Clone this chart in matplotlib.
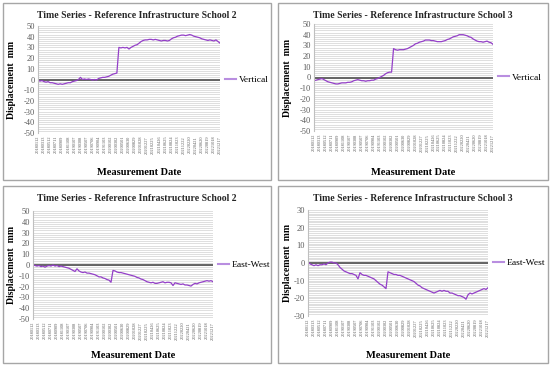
import numpy as np
import matplotlib.pyplot as plt
from matplotlib.patches import Rectangle

plt.rcParams['font.family'] = ['Liberation Serif', 'DejaVu Serif']
plt.rcParams['axes.unicode_minus'] = False

W, H = 550, 366  # figure size in pixels

# samples every 20 days starting 2018-01-12
step = 20
tick_labels = ["20180112", "20180313", "20180512", "20180711", "20180909", "20181108",
               "20190107", "20190308", "20190507", "20190706", "20190904", "20191103",
               "20200102", "20200302", "20200501", "20200630", "20200829", "20201028",
               "20201227", "20210225", "20210426", "20210625", "20210824", "20211023",
               "20211222", "20220220", "20220421", "20220620", "20220819", "20221018",
               "20221217"]
tick_step = 60

vert_school2 = [-1, -1.5, -1, -2, -2.5, -2, -3, -3, -3.5, -4,
                -4.5, -4, -4.5, -4, -3.5, -3, -3, -2, -1.5, -1,
                0, 2, 0, 0.5, 0, 0.5, 0, -0.5, 0, -0.5,
                1, 1.5, 2, 2, 2.5, 3, 4, 5, 5.5, 6,
                30, 29.5, 30, 29.5, 30, 28.5, 30, 31, 32, 32.5,
                34, 35.5, 36.5, 37, 37, 37.5, 37.5, 37, 37.5, 37,
                36.5, 36, 36.5, 36.5, 36, 36.5, 38, 39, 39.5, 40.5,
                41, 41.5, 41.5, 41, 41.5, 42, 41.5, 40.5, 40, 39.5,
                39, 38, 37.5, 37, 36.5, 37, 36.5, 36, 37, 35.5, 34]

vert_school3 = [-3, -2.5, -2, -1.5, -1, -2, -3, -4, -4.5, -5,
                -5.5, -6, -6, -5.5, -5, -5, -5, -4.5, -4.5, -4,
                -3, -2.5, -2, -2.5, -3, -3, -3.5, -3, -3, -2.5,
                -2.5, -1.5, -1, 0, 1, 2, 3.5, 4.5, 5, 5,
                27, 26, 25.5, 26, 26, 26, 26.5, 27, 28, 29,
                30, 31.5, 32, 33, 33.5, 34, 35, 35, 35, 34.5,
                34.5, 34, 33.5, 33.5, 33.5, 34, 34.5, 35.5, 36, 37,
                38, 38.5, 39, 40, 40, 40, 39.5, 39, 38, 37.5,
                36, 35, 34, 33.5, 33.5, 33, 33.5, 34, 33, 32.5, 31]

ew_school2 = [0.5, -0.5, -1, -0.5, -1.5, -1, -2, -1, -0.5, -1,
              0, -1, -0.5, -1.5, -1, -1.5, -2, -2.5, -3, -4,
              -5, -6, -3.5, -5.5, -6.5, -7, -6.5, -7.5, -7.5, -8,
              -8.5, -9, -10, -11, -11, -12, -12.5, -13.5, -14, -16,
              -5, -5.5, -6.5, -7, -7, -7.5, -8, -8.5, -9, -9.5,
              -10, -10.5, -11.5, -12, -13, -13.5, -14.5, -15.5, -16, -16.5,
              -16, -17, -17, -16.5, -16, -15.5, -16.5, -16, -16, -16.5,
              -19, -16.5, -17, -17.5, -18, -17.5, -18.5, -18.5, -19, -19.5,
              -18, -17, -17.5, -16.5, -16, -15.5, -15, -14.5, -15, -14.5, -15.5]

ew_school3 = [0.5, -0.5, -1, -1.5, -1, -1.5, -1, -1, -0.5, -1,
              0, 0.5, 0.5, 0, 0, -1, -2.5, -3.5, -4.5, -5,
              -5.5, -6, -6, -6.5, -7, -9, -5.5, -6.5, -7, -7,
              -7.5, -8, -8.5, -9, -10, -11, -12, -12.5, -13.5, -14.5,
              -5, -5.5, -6, -6.5, -6.5, -7, -7, -7.5, -8, -8.5,
              -9, -9.5, -10, -10.5, -11.5, -12.5, -13, -14, -14.5, -15,
              -15.5, -16, -16.5, -17, -16.5, -16, -15.5, -16, -15.5, -16,
              -16, -17, -17, -17.5, -18, -18.5, -18.5, -19, -19.5, -20.5,
              -18, -17, -17.5, -17, -16.5, -16, -15.5, -15, -14.5, -15, -14]

title2 = "Time Series - Reference Infrastructure School 2"
title3 = "Time Series - Reference Infrastructure School 3"

line_color = '#9440c8'
grey_txt = '#595959'

fig = plt.figure(figsize=(W / 100, H / 100), dpi=100)


def px_rect(x0, y0, x1, y1):
    return [x0 / W, 1 - y1 / H, (x1 - x0) / W, (y1 - y0) / H]


def panel(border, plot, title, values, ylim, minor, label):
    bx0, by0, bx1, by1 = border
    fig.add_artist(Rectangle((bx0 / W, 1 - by1 / H), (bx1 - bx0) / W, (by1 - by0) / H,
                             transform=fig.transFigure, fill=False,
                             edgecolor='#a6a6a6', lw=1.0))
    ax = fig.add_axes(px_rect(*plot))
    x = np.arange(len(values)) * step
    ax.plot(x, values, color=line_color, lw=0.9, label=label)
    ax.axhline(0, color='#595959', lw=1.3, zorder=1)
    ax.set_xlim(0, (len(values) - 1) * step)
    ax.set_ylim(*ylim)
    ax.set_yticks(np.arange(ylim[0], ylim[1] + 1, 10))
    ax.set_yticks(np.arange(ylim[0], ylim[1] + 0.1, minor), minor=True)
    ax.grid(True, which='both', axis='y', color='#d9d9d9', lw=0.6)
    ax.set_axisbelow(True)
    ax.set_xticks(np.arange(len(tick_labels)) * tick_step)
    ax.set_xticklabels(tick_labels, rotation=90, fontsize=3.2, color=grey_txt)
    ax.tick_params(axis='y', labelsize=6, colors=grey_txt, length=0, pad=2)
    ax.tick_params(axis='y', which='minor', length=0)
    ax.tick_params(axis='x', length=0, pad=2)
    for s in ['top', 'right', 'bottom']:
        ax.spines[s].set_visible(False)
    ax.spines['left'].set_color('#bfbfbf')
    ax.spines['left'].set_linewidth(0.8)
    leg = ax.legend(loc='center left', bbox_to_anchor=(1.0, 0.5), frameon=False,
                    fontsize=6.8, handlelength=1.2, handletextpad=0.25, borderaxespad=0.1)
    for h in leg.get_lines():
        h.set_color('#b98ee0')
        h.set_linewidth(1.5)

    cx = (bx0 + bx1) / 2
    fig.text(cx / W, 1 - (by0 + 12) / H, title, ha='center', va='center',
             fontsize=7, fontweight='bold', color='#262626')
    fig.text((bx0 + 9) / W, 1 - ((plot[1] + plot[3]) / 2) / H, "Displacement  mm",
             rotation=90, ha='center', va='center', fontsize=7, fontweight='bold')
    fig.text(((plot[0] + plot[2]) / 2 + 10) / W, 1 - (by1 - 8) / H, "Measurement Date",
             ha='center', va='center', fontsize=7.5, fontweight='bold')
    return ax


panel((3, 3, 271, 180), (38, 26, 220, 133), title2, vert_school2, (-50, 50), 2, "Vertical")
panel((278, 3, 548, 180), (314, 24, 493, 131), title3, vert_school3, (-50, 50), 2, "Vertical")
panel((3, 186, 271, 363), (33, 211, 213, 319), title2, ew_school2, (-50, 50), 2, "East-West")
panel((278, 186, 548, 363), (308, 210, 488, 316), title3, ew_school3, (-30, 30), 1, "East-West")

fig.savefig("out.png", dpi=100)
